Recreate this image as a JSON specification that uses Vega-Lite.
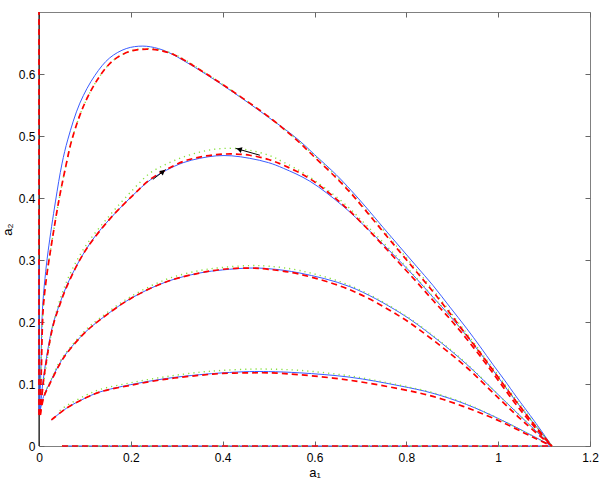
{
  "$schema": "https://vega.github.io/schema/vega-lite/v6.json",
  "width": 551,
  "height": 434,
  "autosize": {"type": "none"},
  "padding": {"left": 39, "top": 12, "right": 13, "bottom": 39},
  "background": "white",
  "config": {
    "view": {"stroke": "#808080", "strokeWidth": 1},
    "axis": {
      "labelFont": "Liberation Sans",
      "titleFont": "Liberation Sans",
      "labelFontSize": 12,
      "titleFontSize": 13,
      "titleFontWeight": "normal",
      "labelColor": "#000000",
      "titleColor": "#000000",
      "grid": false,
      "domain": false,
      "ticks": true,
      "tickColor": "#666666",
      "tickSize": 5,
      "tickWidth": 1,
      "tickOpacity": 1,
      "offset": -5,
      "labelFlush": false,
      "labelOverlap": false,
      "labelBound": false
    }
  },
  "datasets": {
    "curves": [
      {"s":"b","c":"A","a1":0.001,"a2":0.05},{"s":"b","c":"A","a1":0.004,"a2":0.12},{"s":"b","c":"A","a1":0.0075,"a2":0.22},{"s":"b","c":"A","a1":0.013,"a2":0.27},{"s":"b","c":"A","a1":0.02,"a2":0.315},{"s":"b","c":"A","a1":0.036,"a2":0.395},{"s":"b","c":"A","a1":0.05,"a2":0.455},{"s":"b","c":"A","a1":0.063,"a2":0.495},{"s":"b","c":"A","a1":0.089,"a2":0.553},{"s":"b","c":"A","a1":0.122,"a2":0.598},{"s":"b","c":"A","a1":0.154,"a2":0.626},{"s":"b","c":"A","a1":0.19,"a2":0.641},{"s":"b","c":"A","a1":0.226,"a2":0.645},{"s":"b","c":"A","a1":0.26,"a2":0.641},{"s":"b","c":"A","a1":0.29,"a2":0.632},{"s":"b","c":"A","a1":0.314,"a2":0.622},{"s":"b","c":"A","a1":0.35,"a2":0.606},{"s":"b","c":"A","a1":0.386,"a2":0.589},{"s":"b","c":"A","a1":0.42,"a2":0.572},{"s":"b","c":"A","a1":0.459,"a2":0.552},{"s":"b","c":"A","a1":0.5,"a2":0.53},{"s":"b","c":"A","a1":0.532,"a2":0.513},{"s":"b","c":"A","a1":0.568,"a2":0.492},{"s":"b","c":"A","a1":0.6,"a2":0.47},{"s":"b","c":"A","a1":0.648,"a2":0.437},{"s":"b","c":"A","a1":0.68,"a2":0.412},{"s":"b","c":"A","a1":0.71,"a2":0.387},{"s":"b","c":"A","a1":0.75,"a2":0.352},{"s":"b","c":"A","a1":0.786,"a2":0.321},{"s":"b","c":"A","a1":0.822,"a2":0.29},{"s":"b","c":"A","a1":0.858,"a2":0.259},{"s":"b","c":"A","a1":0.895,"a2":0.224},{"s":"b","c":"A","a1":0.931,"a2":0.19},{"s":"b","c":"A","a1":0.96,"a2":0.161},{"s":"b","c":"A","a1":0.989,"a2":0.131},{"s":"b","c":"A","a1":1.015,"a2":0.105},{"s":"b","c":"A","a1":1.04,"a2":0.079},{"s":"b","c":"A","a1":1.08,"a2":0.039},{"s":"b","c":"A","a1":1.117,"a2":0},

      {"s":"r","c":"A","a1":0.002,"a2":0.05},{"s":"r","c":"A","a1":0.005,"a2":0.12},{"s":"r","c":"A","a1":0.009,"a2":0.22},{"s":"r","c":"A","a1":0.016,"a2":0.27},{"s":"r","c":"A","a1":0.025,"a2":0.315},{"s":"r","c":"A","a1":0.043,"a2":0.395},{"s":"r","c":"A","a1":0.058,"a2":0.45},{"s":"r","c":"A","a1":0.072,"a2":0.495},{"s":"r","c":"A","a1":0.098,"a2":0.55},{"s":"r","c":"A","a1":0.13,"a2":0.594},{"s":"r","c":"A","a1":0.162,"a2":0.622},{"s":"r","c":"A","a1":0.2,"a2":0.637},{"s":"r","c":"A","a1":0.235,"a2":0.64},{"s":"r","c":"A","a1":0.27,"a2":0.637},{"s":"r","c":"A","a1":0.3,"a2":0.629},{"s":"r","c":"A","a1":0.35,"a2":0.607},{"s":"r","c":"A","a1":0.4,"a2":0.583},{"s":"r","c":"A","a1":0.459,"a2":0.553},{"s":"r","c":"A","a1":0.5,"a2":0.531},{"s":"r","c":"A","a1":0.532,"a2":0.512},{"s":"r","c":"A","a1":0.568,"a2":0.489},{"s":"r","c":"A","a1":0.6,"a2":0.466},{"s":"r","c":"A","a1":0.648,"a2":0.432},{"s":"r","c":"A","a1":0.68,"a2":0.407},{"s":"r","c":"A","a1":0.71,"a2":0.381},{"s":"r","c":"A","a1":0.75,"a2":0.345},{"s":"r","c":"A","a1":0.786,"a2":0.313},{"s":"r","c":"A","a1":0.822,"a2":0.281},{"s":"r","c":"A","a1":0.858,"a2":0.249},{"s":"r","c":"A","a1":0.895,"a2":0.214},{"s":"r","c":"A","a1":0.931,"a2":0.179},{"s":"r","c":"A","a1":0.96,"a2":0.151},{"s":"r","c":"A","a1":0.989,"a2":0.122},{"s":"r","c":"A","a1":1.04,"a2":0.071},{"s":"r","c":"A","a1":1.08,"a2":0.033},{"s":"r","c":"A","a1":1.117,"a2":0},

      {"s":"g","c":"A","a1":0.003,"a2":0.1},{"s":"g","c":"A","a1":0.009,"a2":0.22},{"s":"g","c":"A","a1":0.016,"a2":0.27},{"s":"g","c":"A","a1":0.025,"a2":0.315},{"s":"g","c":"A","a1":0.043,"a2":0.395},{"s":"g","c":"A","a1":0.058,"a2":0.45},{"s":"g","c":"A","a1":0.072,"a2":0.495},{"s":"g","c":"A","a1":0.098,"a2":0.55},{"s":"g","c":"A","a1":0.13,"a2":0.594},{"s":"g","c":"A","a1":0.162,"a2":0.622},{"s":"g","c":"A","a1":0.2,"a2":0.637},{"s":"g","c":"A","a1":0.235,"a2":0.641},{"s":"g","c":"A","a1":0.27,"a2":0.638},{"s":"g","c":"A","a1":0.3,"a2":0.63},{"s":"g","c":"A","a1":0.35,"a2":0.608},{"s":"g","c":"A","a1":0.4,"a2":0.583},{"s":"g","c":"A","a1":0.459,"a2":0.553},{"s":"g","c":"A","a1":0.5,"a2":0.531},{"s":"g","c":"A","a1":0.568,"a2":0.49},{"s":"g","c":"A","a1":0.648,"a2":0.434},{"s":"g","c":"A","a1":0.71,"a2":0.383},{"s":"g","c":"A","a1":0.786,"a2":0.316},{"s":"g","c":"A","a1":0.858,"a2":0.252},{"s":"g","c":"A","a1":0.931,"a2":0.182},{"s":"g","c":"A","a1":0.989,"a2":0.125},{"s":"g","c":"A","a1":1.04,"a2":0.074},{"s":"g","c":"A","a1":1.117,"a2":0},

      {"s":"b","c":"B","a1":0.002,"a2":0.05},{"s":"b","c":"B","a1":0.008,"a2":0.1},{"s":"b","c":"B","a1":0.018,"a2":0.15},{"s":"b","c":"B","a1":0.03,"a2":0.195},{"s":"b","c":"B","a1":0.044,"a2":0.227},{"s":"b","c":"B","a1":0.06,"a2":0.258},{"s":"b","c":"B","a1":0.085,"a2":0.295},{"s":"b","c":"B","a1":0.1,"a2":0.314},{"s":"b","c":"B","a1":0.121,"a2":0.337},{"s":"b","c":"B","a1":0.154,"a2":0.366},{"s":"b","c":"B","a1":0.204,"a2":0.404},{"s":"b","c":"B","a1":0.242,"a2":0.429},{"s":"b","c":"B","a1":0.278,"a2":0.445},{"s":"b","c":"B","a1":0.314,"a2":0.457},{"s":"b","c":"B","a1":0.35,"a2":0.464},{"s":"b","c":"B","a1":0.386,"a2":0.468},{"s":"b","c":"B","a1":0.42,"a2":0.468},{"s":"b","c":"B","a1":0.459,"a2":0.464},{"s":"b","c":"B","a1":0.5,"a2":0.457},{"s":"b","c":"B","a1":0.532,"a2":0.448},{"s":"b","c":"B","a1":0.59,"a2":0.427},{"s":"b","c":"B","a1":0.662,"a2":0.387},{"s":"b","c":"B","a1":0.713,"a2":0.352},{"s":"b","c":"B","a1":0.75,"a2":0.325},{"s":"b","c":"B","a1":0.786,"a2":0.298},{"s":"b","c":"B","a1":0.822,"a2":0.27},{"s":"b","c":"B","a1":0.858,"a2":0.24},{"s":"b","c":"B","a1":0.895,"a2":0.21},{"s":"b","c":"B","a1":0.931,"a2":0.178},{"s":"b","c":"B","a1":0.968,"a2":0.143},{"s":"b","c":"B","a1":1.004,"a2":0.107},{"s":"b","c":"B","a1":1.04,"a2":0.071},{"s":"b","c":"B","a1":1.08,"a2":0.034},{"s":"b","c":"B","a1":1.117,"a2":0},

      {"s":"r","c":"B","a1":0.003,"a2":0.05},{"s":"r","c":"B","a1":0.009,"a2":0.1},{"s":"r","c":"B","a1":0.019,"a2":0.15},{"s":"r","c":"B","a1":0.031,"a2":0.195},{"s":"r","c":"B","a1":0.045,"a2":0.227},{"s":"r","c":"B","a1":0.061,"a2":0.258},{"s":"r","c":"B","a1":0.1,"a2":0.314},{"s":"r","c":"B","a1":0.154,"a2":0.366},{"s":"r","c":"B","a1":0.204,"a2":0.404},{"s":"r","c":"B","a1":0.242,"a2":0.43},{"s":"r","c":"B","a1":0.278,"a2":0.446},{"s":"r","c":"B","a1":0.314,"a2":0.459},{"s":"r","c":"B","a1":0.35,"a2":0.466},{"s":"r","c":"B","a1":0.386,"a2":0.47},{"s":"r","c":"B","a1":0.423,"a2":0.471},{"s":"r","c":"B","a1":0.459,"a2":0.469},{"s":"r","c":"B","a1":0.5,"a2":0.462},{"s":"r","c":"B","a1":0.532,"a2":0.453},{"s":"r","c":"B","a1":0.59,"a2":0.431},{"s":"r","c":"B","a1":0.662,"a2":0.389},{"s":"r","c":"B","a1":0.713,"a2":0.352},{"s":"r","c":"B","a1":0.75,"a2":0.323},{"s":"r","c":"B","a1":0.786,"a2":0.294},{"s":"r","c":"B","a1":0.822,"a2":0.265},{"s":"r","c":"B","a1":0.858,"a2":0.235},{"s":"r","c":"B","a1":0.895,"a2":0.205},{"s":"r","c":"B","a1":0.931,"a2":0.173},{"s":"r","c":"B","a1":0.968,"a2":0.138},{"s":"r","c":"B","a1":1.004,"a2":0.102},{"s":"r","c":"B","a1":1.04,"a2":0.066},{"s":"r","c":"B","a1":1.08,"a2":0.03},{"s":"r","c":"B","a1":1.117,"a2":0},

      {"s":"g","c":"B","a1":0.01,"a2":0.1},{"s":"g","c":"B","a1":0.02,"a2":0.15},{"s":"g","c":"B","a1":0.032,"a2":0.2},{"s":"g","c":"B","a1":0.06,"a2":0.265},{"s":"g","c":"B","a1":0.1,"a2":0.321},{"s":"g","c":"B","a1":0.154,"a2":0.372},{"s":"g","c":"B","a1":0.204,"a2":0.413},{"s":"g","c":"B","a1":0.2415,"a2":0.44},{"s":"g","c":"B","a1":0.278,"a2":0.455},{"s":"g","c":"B","a1":0.314,"a2":0.466},{"s":"g","c":"B","a1":0.35,"a2":0.474},{"s":"g","c":"B","a1":0.386,"a2":0.479},{"s":"g","c":"B","a1":0.423,"a2":0.48},{"s":"g","c":"B","a1":0.459,"a2":0.477},{"s":"g","c":"B","a1":0.5,"a2":0.469},{"s":"g","c":"B","a1":0.532,"a2":0.458},{"s":"g","c":"B","a1":0.583,"a2":0.437},{"s":"g","c":"B","a1":0.662,"a2":0.393},{"s":"g","c":"B","a1":0.713,"a2":0.356},{"s":"g","c":"B","a1":0.786,"a2":0.3},{"s":"g","c":"B","a1":0.858,"a2":0.241},{"s":"g","c":"B","a1":0.931,"a2":0.178},{"s":"g","c":"B","a1":1.004,"a2":0.106},{"s":"g","c":"B","a1":1.117,"a2":0},

      {"s":"b","c":"C","a1":0.0015,"a2":0.053},{"s":"b","c":"C","a1":0.01,"a2":0.08},{"s":"b","c":"C","a1":0.023,"a2":0.101},{"s":"b","c":"C","a1":0.045,"a2":0.133},{"s":"b","c":"C","a1":0.06,"a2":0.15},{"s":"b","c":"C","a1":0.1,"a2":0.183},{"s":"b","c":"C","a1":0.132,"a2":0.203},{"s":"b","c":"C","a1":0.2,"a2":0.238},{"s":"b","c":"C","a1":0.278,"a2":0.265},{"s":"b","c":"C","a1":0.35,"a2":0.279},{"s":"b","c":"C","a1":0.4,"a2":0.284},{"s":"b","c":"C","a1":0.459,"a2":0.287},{"s":"b","c":"C","a1":0.5,"a2":0.286},{"s":"b","c":"C","a1":0.568,"a2":0.279},{"s":"b","c":"C","a1":0.677,"a2":0.257},{"s":"b","c":"C","a1":0.786,"a2":0.215},{"s":"b","c":"C","a1":0.858,"a2":0.177},{"s":"b","c":"C","a1":0.931,"a2":0.132},{"s":"b","c":"C","a1":1.004,"a2":0.08},{"s":"b","c":"C","a1":1.06,"a2":0.04},{"s":"b","c":"C","a1":1.117,"a2":0},

      {"s":"r","c":"C","a1":0.0025,"a2":0.05},{"s":"r","c":"C","a1":0.011,"a2":0.08},{"s":"r","c":"C","a1":0.024,"a2":0.101},{"s":"r","c":"C","a1":0.046,"a2":0.133},{"s":"r","c":"C","a1":0.061,"a2":0.15},{"s":"r","c":"C","a1":0.1,"a2":0.183},{"s":"r","c":"C","a1":0.132,"a2":0.203},{"s":"r","c":"C","a1":0.2,"a2":0.238},{"s":"r","c":"C","a1":0.278,"a2":0.265},{"s":"r","c":"C","a1":0.35,"a2":0.279},{"s":"r","c":"C","a1":0.4,"a2":0.285},{"s":"r","c":"C","a1":0.459,"a2":0.287},{"s":"r","c":"C","a1":0.5,"a2":0.285},{"s":"r","c":"C","a1":0.568,"a2":0.277},{"s":"r","c":"C","a1":0.677,"a2":0.252},{"s":"r","c":"C","a1":0.786,"a2":0.209},{"s":"r","c":"C","a1":0.858,"a2":0.171},{"s":"r","c":"C","a1":0.931,"a2":0.127},{"s":"r","c":"C","a1":1.004,"a2":0.075},{"s":"r","c":"C","a1":1.06,"a2":0.036},{"s":"r","c":"C","a1":1.117,"a2":0},

      {"s":"g","c":"C","a1":0.012,"a2":0.085},{"s":"g","c":"C","a1":0.025,"a2":0.105},{"s":"g","c":"C","a1":0.046,"a2":0.137},{"s":"g","c":"C","a1":0.1,"a2":0.186},{"s":"g","c":"C","a1":0.132,"a2":0.206},{"s":"g","c":"C","a1":0.2,"a2":0.241},{"s":"g","c":"C","a1":0.278,"a2":0.269},{"s":"g","c":"C","a1":0.35,"a2":0.283},{"s":"g","c":"C","a1":0.4,"a2":0.288},{"s":"g","c":"C","a1":0.459,"a2":0.291},{"s":"g","c":"C","a1":0.5,"a2":0.29},{"s":"g","c":"C","a1":0.568,"a2":0.283},{"s":"g","c":"C","a1":0.677,"a2":0.259},{"s":"g","c":"C","a1":0.786,"a2":0.216},{"s":"g","c":"C","a1":0.858,"a2":0.178},{"s":"g","c":"C","a1":0.931,"a2":0.133},{"s":"g","c":"C","a1":1.004,"a2":0.08},{"s":"g","c":"C","a1":1.117,"a2":0},

      {"s":"b","c":"D","a1":0.027,"a2":0.042},{"s":"b","c":"D","a1":0.06,"a2":0.061},{"s":"b","c":"D","a1":0.1,"a2":0.077},{"s":"b","c":"D","a1":0.132,"a2":0.087},{"s":"b","c":"D","a1":0.2,"a2":0.099},{"s":"b","c":"D","a1":0.278,"a2":0.109},{"s":"b","c":"D","a1":0.35,"a2":0.115},{"s":"b","c":"D","a1":0.4,"a2":0.118},{"s":"b","c":"D","a1":0.459,"a2":0.12},{"s":"b","c":"D","a1":0.5,"a2":0.12},{"s":"b","c":"D","a1":0.568,"a2":0.118},{"s":"b","c":"D","a1":0.677,"a2":0.111},{"s":"b","c":"D","a1":0.786,"a2":0.097},{"s":"b","c":"D","a1":0.858,"a2":0.085},{"s":"b","c":"D","a1":0.931,"a2":0.067},{"s":"b","c":"D","a1":1.004,"a2":0.043},{"s":"b","c":"D","a1":1.076,"a2":0.016},{"s":"b","c":"D","a1":1.117,"a2":0},

      {"s":"r","c":"D","a1":0.027,"a2":0.042},{"s":"r","c":"D","a1":0.06,"a2":0.061},{"s":"r","c":"D","a1":0.1,"a2":0.077},{"s":"r","c":"D","a1":0.132,"a2":0.087},{"s":"r","c":"D","a1":0.2,"a2":0.098},{"s":"r","c":"D","a1":0.278,"a2":0.108},{"s":"r","c":"D","a1":0.35,"a2":0.114},{"s":"r","c":"D","a1":0.4,"a2":0.117},{"s":"r","c":"D","a1":0.459,"a2":0.118},{"s":"r","c":"D","a1":0.5,"a2":0.118},{"s":"r","c":"D","a1":0.568,"a2":0.115},{"s":"r","c":"D","a1":0.677,"a2":0.106},{"s":"r","c":"D","a1":0.786,"a2":0.092},{"s":"r","c":"D","a1":0.858,"a2":0.08},{"s":"r","c":"D","a1":0.931,"a2":0.062},{"s":"r","c":"D","a1":1.004,"a2":0.04},{"s":"r","c":"D","a1":1.076,"a2":0.014},{"s":"r","c":"D","a1":1.117,"a2":0},

      {"s":"g","c":"D","a1":0.045,"a2":0.057},{"s":"g","c":"D","a1":0.06,"a2":0.065},{"s":"g","c":"D","a1":0.1,"a2":0.081},{"s":"g","c":"D","a1":0.132,"a2":0.091},{"s":"g","c":"D","a1":0.2,"a2":0.102},{"s":"g","c":"D","a1":0.278,"a2":0.112},{"s":"g","c":"D","a1":0.35,"a2":0.119},{"s":"g","c":"D","a1":0.4,"a2":0.122},{"s":"g","c":"D","a1":0.459,"a2":0.124},{"s":"g","c":"D","a1":0.5,"a2":0.124},{"s":"g","c":"D","a1":0.568,"a2":0.122},{"s":"g","c":"D","a1":0.677,"a2":0.113},{"s":"g","c":"D","a1":0.786,"a2":0.098},{"s":"g","c":"D","a1":0.858,"a2":0.086},{"s":"g","c":"D","a1":0.931,"a2":0.068},{"s":"g","c":"D","a1":1.004,"a2":0.043},{"s":"g","c":"D","a1":1.117,"a2":0},

      {"s":"k","c":"V","a1":0,"a2":0},{"s":"k","c":"V","a1":0,"a2":0.7},
      {"s":"b","c":"V","a1":0,"a2":0.05},{"s":"b","c":"V","a1":0,"a2":0.3},
      {"s":"r","c":"V","a1":0,"a2":0.05},{"s":"r","c":"V","a1":0,"a2":0.7},
      {"s":"b","c":"H","a1":0.05,"a2":0},{"s":"b","c":"H","a1":1.117,"a2":0},
      {"s":"g","c":"H","a1":0.05,"a2":0},{"s":"g","c":"H","a1":1.117,"a2":0},
      {"s":"r","c":"H","a1":0.05,"a2":0},{"s":"r","c":"H","a1":1.117,"a2":0}
    ],
    "arrows": [
      {"id":"up","a1":0.248,"a2":0.43,"b1":0.276,"b2":0.446,"h1":0.27,"h2":0.4425},
      {"id":"back","a1":0.481,"a2":0.469,"b1":0.4285,"b2":0.48,"h1":0.436,"h2":0.4785}
    ]
  },
  "layer": [
    {
      "data": {"name": "curves"},
      "transform": [{"filter": "datum.s === 'k'"}],
      "mark": {"type": "line", "color": "#000000", "strokeWidth": 1},
      "encoding": {
        "x": {"field": "a1", "type": "quantitative", "axis": null},
        "y": {"field": "a2", "type": "quantitative", "axis": null},
        "detail": {"field": "c"}
      }
    },
    {
      "data": {"name": "curves"},
      "transform": [{"filter": "datum.s === 'b'"}],
      "mark": {"type": "line", "color": "#3a5cff", "strokeWidth": 1, "interpolate": "catmull-rom"},
      "encoding": {
        "x": {"field": "a1", "type": "quantitative", "scale": {"domain": [0, 1.2], "nice": false, "zero": false},
          "axis": {"orient": "bottom", "values": [0, 0.2, 0.4, 0.6, 0.8, 1, 1.2], "format": "~g", "title": "a₁", "labelPadding": 6, "titlePadding": 3}},
        "y": {"field": "a2", "type": "quantitative", "scale": {"domain": [0, 0.7], "nice": false, "zero": false},
          "axis": {"orient": "left", "values": [0, 0.1, 0.2, 0.3, 0.4, 0.5, 0.6], "format": "~g", "title": "a₂", "labelPadding": 4, "titlePadding": 4}},
        "detail": {"field": "c"}
      }
    },
    {
      "data": {"name": "curves"},
      "transform": [{"filter": "datum.s === 'g'"}],
      "mark": {"type": "line", "color": "#86e03c", "strokeWidth": 1.4, "strokeDash": [1.2, 4], "interpolate": "catmull-rom"},
      "encoding": {
        "x": {"field": "a1", "type": "quantitative",
          "axis": {"orient": "top", "values": [0, 0.2, 0.4, 0.6, 0.8, 1, 1.2], "labels": false, "title": null}},
        "y": {"field": "a2", "type": "quantitative",
          "axis": {"orient": "right", "values": [0, 0.1, 0.2, 0.3, 0.4, 0.5, 0.6], "labels": false, "title": null}},
        "detail": {"field": "c"}
      }
    },
    {
      "data": {"name": "curves"},
      "transform": [{"filter": "datum.s === 'r'"}],
      "mark": {"type": "line", "color": "#ff0000", "strokeWidth": 1.7, "strokeDash": [6, 4], "interpolate": "catmull-rom"},
      "encoding": {
        "x": {"field": "a1", "type": "quantitative", "axis": null},
        "y": {"field": "a2", "type": "quantitative", "axis": null},
        "detail": {"field": "c"}
      }
    },
    {
      "data": {"name": "arrows"},
      "mark": {"type": "rule", "color": "#000000", "strokeWidth": 1},
      "encoding": {
        "x": {"field": "a1", "type": "quantitative", "axis": null},
        "y": {"field": "a2", "type": "quantitative", "axis": null},
        "x2": {"field": "b1"},
        "y2": {"field": "b2"}
      }
    },
    {
      "data": {"name": "arrows"},
      "transform": [{"filter": "datum.id === 'up'"}],
      "mark": {"type": "point", "shape": "triangle-up", "filled": true, "color": "#000000", "size": 35, "angle": 52, "opacity": 1},
      "encoding": {
        "x": {"field": "h1", "type": "quantitative", "axis": null},
        "y": {"field": "h2", "type": "quantitative", "axis": null}
      }
    },
    {
      "data": {"name": "arrows"},
      "transform": [{"filter": "datum.id === 'back'"}],
      "mark": {"type": "point", "shape": "triangle-up", "filled": true, "color": "#000000", "size": 35, "angle": 286, "opacity": 1},
      "encoding": {
        "x": {"field": "h1", "type": "quantitative", "axis": null},
        "y": {"field": "h2", "type": "quantitative", "axis": null}
      }
    }
  ],
  "resolve": {"axis": {"x": "independent", "y": "independent"}}
}
